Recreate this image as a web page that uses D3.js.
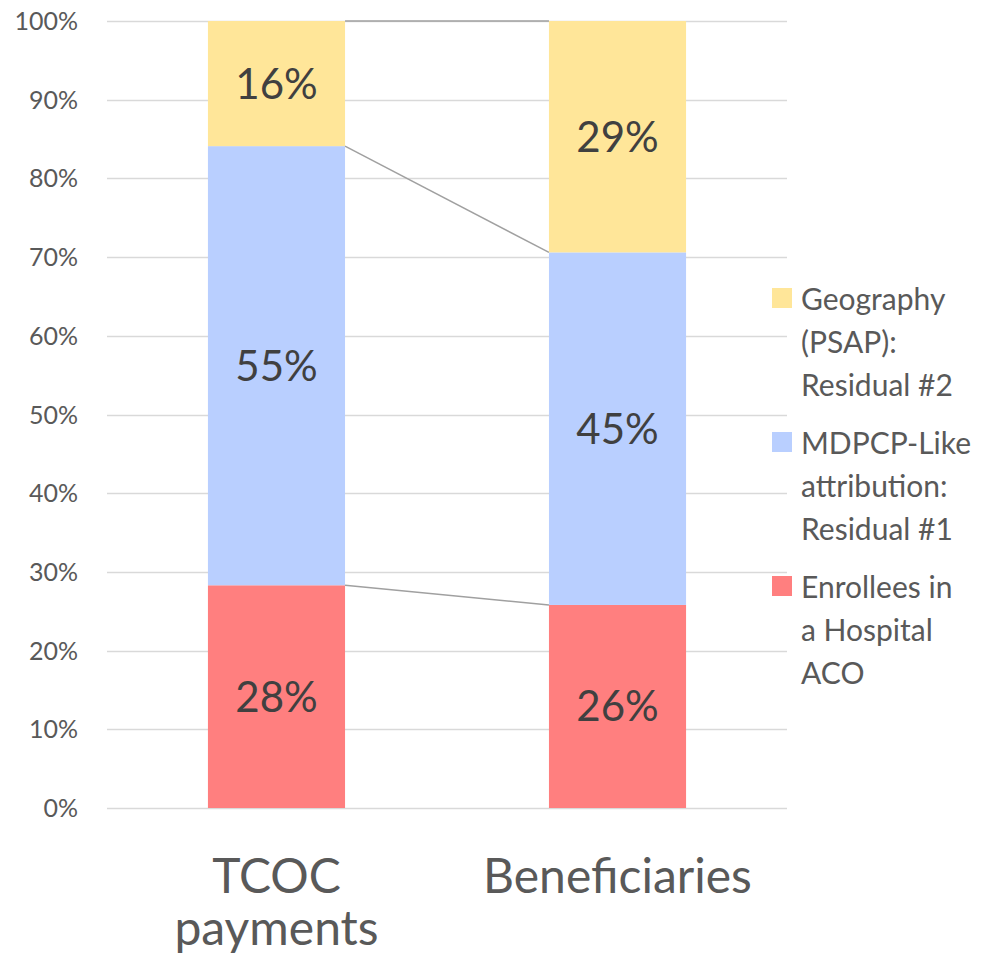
<!DOCTYPE html>
<html>
<head>
<meta charset="utf-8">
<script src="https://cdn.jsdelivr.net/npm/d3@7"></script>
<style>
  body { margin: 0; background: #fff; }
  svg text { font-family: Lato, "Open Sans", sans-serif; }
</style>
</head>
<body>
<div id="vis"></div>
<script>
const width = 1000;
const height = 964;

// chart data
const categories = ['TCOC payments', 'Beneficiaries'];
const seriesNames = ['Enrollees in a Hospital ACO', 'MDPCP-Like attribution: Residual #1', 'Geography (PSAP): Residual #2'];
const hospitalAco = [28.3, 25.8];
const mdpcpLike = [55.8, 44.8];
const geography = [15.9, 29.4];
const valueLabels = [['28%', '26%'], ['55%', '45%'], ['16%', '29%']];
const yTicks = [0, 10, 20, 30, 40, 50, 60, 70, 80, 90, 100];
const colors = ['#ff7f7f', '#b9cfff', '#ffe699'];

// legend text, split into lines as in the original
const legendLines = [
    ['Geography', '(PSAP):', 'Residual #2'],
    ['MDPCP-Like', 'attribution:', 'Residual #1'],
    ['Enrollees in', 'a Hospital', 'ACO']
];
const legendColors = [colors[2], colors[1], colors[0]];

let vis = d3.select('#vis')
            .append('svg')
            .attr('width', width)
            .attr('height', height);

const y = d3.scaleLinear().domain([0, 100]).range([808, 21]);
const x = d3.scaleBand().domain(categories).range([107, 787]).paddingInner(0.598).paddingOuter(0.296);

// gridlines
vis.append('g')
   .selectAll('line')
   .data(yTicks)
   .enter()
   .append('line')
   .attr('x1', 107)
   .attr('x2', 787)
   .attr('y1', d => Math.round(y(d)) + 0.5)
   .attr('y2', d => Math.round(y(d)) + 0.5)
   .attr('stroke', '#d9d9d9')
   .attr('stroke-width', 1.5);

// y tick labels
vis.append('g')
   .selectAll('text')
   .data(yTicks)
   .enter()
   .append('text')
   .attr('x', 78)
   .attr('y', d => y(d) + 9)
   .attr('text-anchor', 'end')
   .attr('font-size', 25)
   .attr('fill', '#595959')
   .text(d => d + '%');

// stack
const rows = categories.map((c, i) => ({
    cat: c, s0: hospitalAco[i], s1: mdpcpLike[i], s2: geography[i]
}));
const stack = d3.stack().keys(['s0', 's1', 's2'])(rows);

// series lines between bars
const lineG = vis.append('g');
stack.forEach(layer => {
    lineG.append('line')
         .attr('x1', x(categories[0]) + x.bandwidth())
         .attr('x2', x(categories[1]))
         .attr('y1', y(layer[0][1]))
         .attr('y2', y(layer[1][1]))
         .attr('stroke', '#a0a0a0')
         .attr('stroke-width', 1.5);
});

// bars
const barG = vis.append('g');
stack.forEach((layer, li) => {
    barG.selectAll(null)
        .data(layer)
        .enter()
        .append('rect')
        .attr('x', d => x(d.data.cat))
        .attr('width', x.bandwidth())
        .attr('y', d => y(d[1]))
        .attr('height', d => y(d[0]) - y(d[1]))
        .attr('fill', colors[li]);

    barG.selectAll(null)
        .data(layer)
        .enter()
        .append('text')
        .attr('x', d => x(d.data.cat) + x.bandwidth() / 2)
        .attr('y', d => (y(d[0]) + y(d[1])) / 2 + 15)
        .attr('text-anchor', 'middle')
        .attr('font-size', 42)
        .attr('fill', '#404040')
        .text((d, i) => valueLabels[li][i]);
});

// category labels
const catLines = [['TCOC', 'payments'], ['Beneficiaries']];
categories.forEach((c, i) => {
    catLines[i].forEach((t, j) => {
        vis.append('text')
           .attr('x', x(c) + x.bandwidth() / 2)
           .attr('y', 893 + j * 52)
           .attr('text-anchor', 'middle')
           .attr('font-size', 48)
           .attr('fill', '#595959')
           .text(t);
    });
});

// legend
legendLines.forEach((lines, i) => {
    const top = 310 + i * 144;
    vis.append('rect')
       .attr('x', 772)
       .attr('y', top - 22)
       .attr('width', 20)
       .attr('height', 20)
       .attr('fill', legendColors[i]);
    lines.forEach((t, j) => {
        vis.append('text')
           .attr('x', 801)
           .attr('y', top + j * 43)
           .attr('font-size', 30)
           .attr('fill', '#595959')
           .text(t);
    });
});
</script>
</body>
</html>
